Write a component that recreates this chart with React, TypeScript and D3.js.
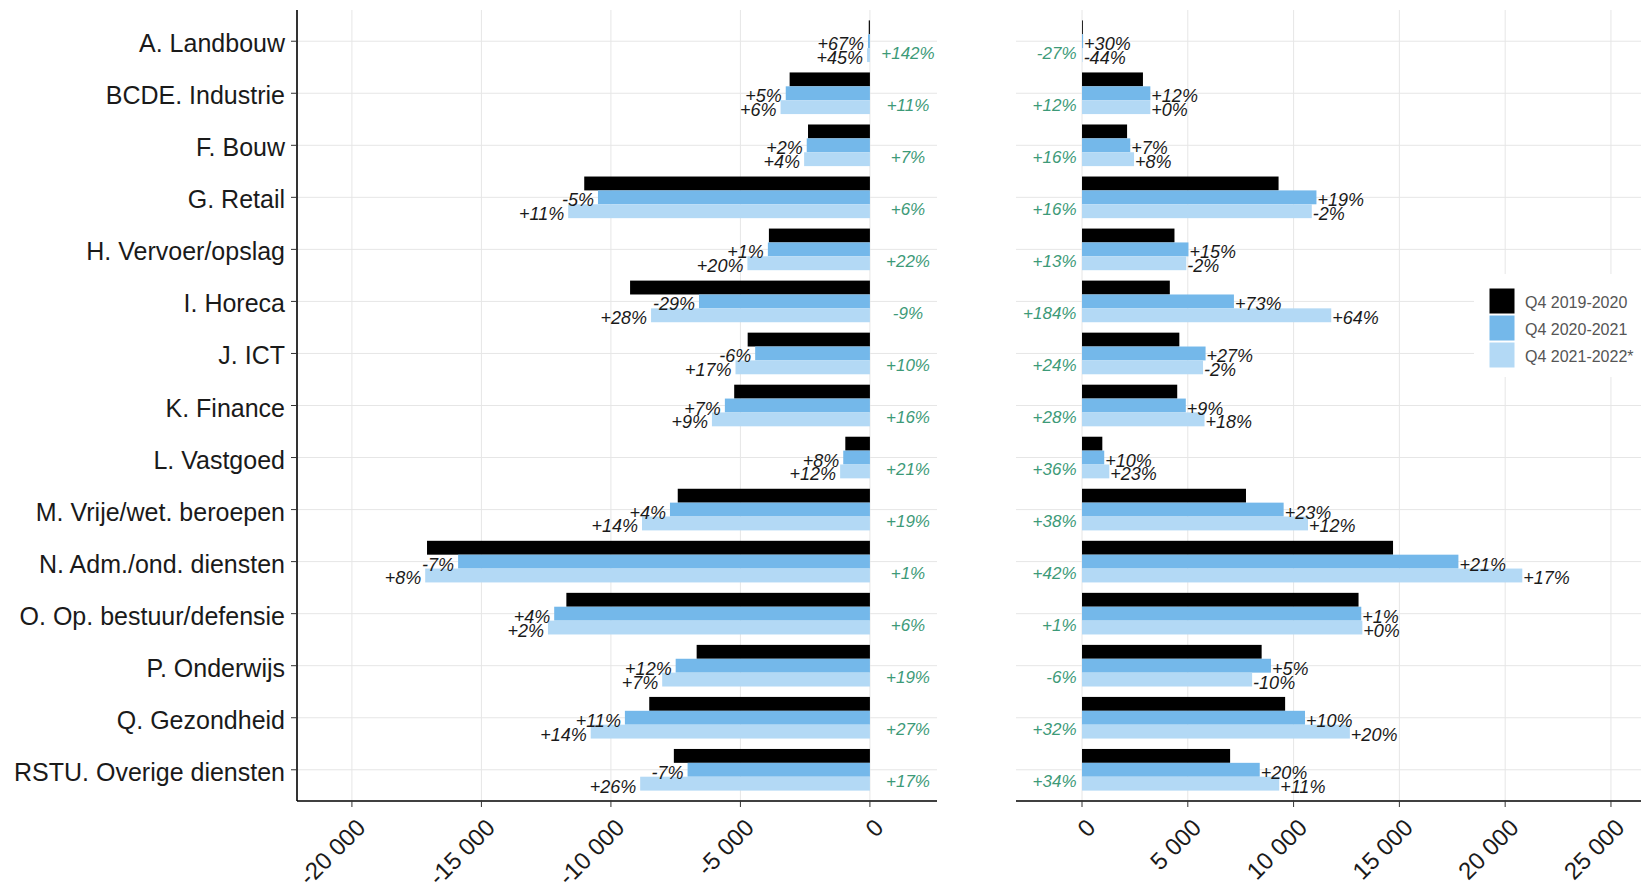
import * as d3 from 'd3'

// sectors (top to bottom)
const categories = [
  'A. Landbouw',
  'BCDE. Industrie',
  'F. Bouw',
  'G. Retail',
  'H. Vervoer/opslag',
  'I. Horeca',
  'J. ICT',
  'K. Finance',
  'L. Vastgoed',
  'M. Vrije/wet. beroepen',
  'N. Adm./ond. diensten',
  'O. Op. bestuur/defensie',
  'P. Onderwijs',
  'Q. Gezondheid',
  'RSTU. Overige diensten',
]

const seriesNames = ['Q4 2019-2020', 'Q4 2020-2021', 'Q4 2021-2022*']
const seriesColors = ['#000000', '#74b8ea', '#b3d9f5']

// left panel (negative values)
const left2019 = [-45, -3100, -2390, -11030, -3900, -9260, -4720, -5240, -950, -7420, -17100, -11720, -6690, -8520, -7570]
const left2020 = [-75, -3250, -2440, -10500, -3940, -6600, -4430, -5600, -1030, -7720, -15900, -12190, -7500, -9460, -7040]
const left2021 = [-110, -3450, -2540, -11650, -4730, -8450, -5190, -6100, -1150, -8800, -17170, -12430, -8020, -10780, -8870]
const leftPct2020 = ['+67%', '+5%', '+2%', '-5%', '+1%', '-29%', '-6%', '+7%', '+8%', '+4%', '-7%', '+4%', '+12%', '+11%', '-7%']
const leftPct2021 = ['+45%', '+6%', '+4%', '+11%', '+20%', '+28%', '+17%', '+9%', '+12%', '+14%', '+8%', '+2%', '+7%', '+14%', '+26%']
const leftTotal = ['+142%', '+11%', '+7%', '+6%', '+22%', '-9%', '+10%', '+16%', '+21%', '+19%', '+1%', '+6%', '+19%', '+27%', '+17%']
const leftTicks = [-20000, -15000, -10000, -5000, 0]

// right panel (positive values)
const right2019 = [40, 2880, 2130, 9290, 4370, 4150, 4600, 4500, 960, 7750, 14700, 13070, 8490, 9600, 7000]
const right2020 = [52, 3230, 2280, 11080, 5030, 7180, 5840, 4905, 1050, 9530, 17790, 13200, 8930, 10540, 8400]
const right2021 = [29, 3230, 2460, 10860, 4930, 11780, 5720, 5790, 1290, 10680, 20810, 13250, 8040, 12660, 9320]
const rightPct2020 = ['+30%', '+12%', '+7%', '+19%', '+15%', '+73%', '+27%', '+9%', '+10%', '+23%', '+21%', '+1%', '+5%', '+10%', '+20%']
const rightPct2021 = ['-44%', '+0%', '+8%', '-2%', '-2%', '+64%', '-2%', '+18%', '+23%', '+12%', '+17%', '+0%', '-10%', '+20%', '+11%']
const rightTotal = ['-27%', '+12%', '+16%', '+16%', '+13%', '+184%', '+24%', '+28%', '+36%', '+38%', '+42%', '+1%', '-6%', '+32%', '+34%']
const rightTicks = [0, 5000, 10000, 15000, 20000, 25000]

const W = 1641
const H = 889
const font = '"Liberation Sans", Arial, sans-serif'
const green = '#3d9a78'
const grid = '#e6e6e6'

const top = 10
const bottom = 801

const fmt = d3
  .formatLocale({ decimal: '.', thousands: ' ', grouping: [3], currency: ['', ''], minus: '-' })
  .format(',')

const y = d3.scalePoint<string>().domain(categories).range([top, bottom]).padding(0.6)
const sub = d3
  .scaleBand<string>()
  .domain(seriesNames)
  .range([-y.step() * 0.4, y.step() * 0.4])

const xL = d3.scaleLinear().domain([-22120, 2590]).range([297, 937])
const xR = d3.scaleLinear().domain([-3120, 26420]).range([1016, 1641])

type PanelProps = {
  x: d3.ScaleLinear<number, number>
  values: number[][]
  pct2020: string[]
  pct2021: string[]
  side: 'left' | 'right'
}

const Bars = ({ x, values, pct2020, pct2021, side }: PanelProps) => {
  const bh = sub.bandwidth()
  return (
    <g>
      {categories.map((c, i) => {
        const cy = y(c)!
        return (
          <g key={c}>
            {seriesNames.map((s, k) => {
              const v = values[k][i]
              const x0 = Math.min(x(0), x(v))
              const w = Math.abs(x(v) - x(0))
              return (
                <rect
                  key={s}
                  x={x0}
                  y={cy + sub(s)!}
                  width={w}
                  height={bh}
                  fill={seriesColors[k]}
                />
              )
            })}
            {[pct2020, pct2021].map((labels, j) => {
              const k = j + 1
              const v = values[k][i]
              const ly = cy + sub(seriesNames[k])! + bh / 2 + 3
              return (
                <text
                  key={j}
                  x={side === 'left' ? x(v) - 4 : x(v) + 1}
                  y={ly}
                  textAnchor={side === 'left' ? 'end' : 'start'}
                  dominantBaseline="central"
                  fontSize={18}
                  fontStyle="italic"
                  fill="#1a1a1a"
                >
                  {labels[i]}
                </text>
              )
            })}
          </g>
        )
      })}
    </g>
  )
}

export default function App() {
  const leftVals = [left2019, left2020, left2021]
  const rightVals = [right2019, right2020, right2021]

  return (
    <svg
      width={W}
      height={H}
      style={{ position: 'absolute', left: 0, top: 0, fontFamily: font, background: '#fff' }}
    >
      {/* left panel grid */}
      <g>
        {categories.map((c) => (
          <line key={c} x1={xL.range()[0]} x2={xL.range()[1]} y1={y(c)} y2={y(c)} stroke={grid} />
        ))}
        {leftTicks.map((t) => (
          <line key={t} x1={xL(t)} x2={xL(t)} y1={top} y2={bottom} stroke={grid} />
        ))}
      </g>
      {/* right panel grid */}
      <g>
        {categories.map((c) => (
          <line key={c} x1={xR.range()[0]} x2={xR.range()[1]} y1={y(c)} y2={y(c)} stroke={grid} />
        ))}
        {rightTicks.map((t) => (
          <line key={t} x1={xR(t)} x2={xR(t)} y1={top} y2={bottom} stroke={grid} />
        ))}
      </g>

      <Bars x={xL} values={leftVals} pct2020={leftPct2020} pct2021={leftPct2021} side="left" />
      <Bars x={xR} values={rightVals} pct2020={rightPct2020} pct2021={rightPct2021} side="right" />

      {/* total change labels */}
      {categories.map((c, i) => (
        <g key={c} fontSize={17} fontStyle="italic" fill={green}>
          <text x={xL(1470)} y={y(c)! + 12} textAnchor="middle" dominantBaseline="central">
            {leftTotal[i]}
          </text>
          <text x={xR(-260)} y={y(c)! + 12} textAnchor="end" dominantBaseline="central">
            {rightTotal[i]}
          </text>
        </g>
      ))}

      {/* left axes */}
      <line x1={xL.range()[0]} x2={xL.range()[0]} y1={top} y2={bottom} stroke="#000" strokeWidth={1.6} />
      <line x1={xL.range()[0]} x2={xL.range()[1]} y1={bottom} y2={bottom} stroke="#000" strokeWidth={1.6} />
      {categories.map((c) => (
        <g key={c}>
          <line x1={xL.range()[0] - 6} x2={xL.range()[0]} y1={y(c)} y2={y(c)} stroke="#333" />
          <text
            x={xL.range()[0] - 12}
            y={y(c)! + 2}
            textAnchor="end"
            dominantBaseline="central"
            fontSize={25}
            fill="#1a1a1a"
          >
            {c}
          </text>
        </g>
      ))}
      {leftTicks.map((t) => (
        <g key={t}>
          <line x1={xL(t)} x2={xL(t)} y1={bottom} y2={bottom + 6} stroke="#333" />
          <text
            transform={`translate(${xL(t) + 15},${bottom + 28}) rotate(-45)`}
            textAnchor="end"
            fontSize={24}
            fill="#1a1a1a"
          >
            {fmt(t)}
          </text>
        </g>
      ))}

      {/* right axes */}
      <line x1={xR.range()[0]} x2={xR.range()[1]} y1={bottom} y2={bottom} stroke="#000" strokeWidth={1.6} />
      {rightTicks.map((t) => (
        <g key={t}>
          <line x1={xR(t)} x2={xR(t)} y1={bottom} y2={bottom + 6} stroke="#333" />
          <text
            transform={`translate(${xR(t) + 15},${bottom + 28}) rotate(-45)`}
            textAnchor="end"
            fontSize={24}
            fill="#1a1a1a"
          >
            {fmt(t)}
          </text>
        </g>
      ))}

      {/* legend */}
      <g>
        <rect x={1474} y={274} width={W - 1474} height={103} fill="#fff" />
        {seriesNames.map((s, k) => (
          <g key={s} transform={`translate(1489,${288 + k * 27})`}>
            <rect width={26} height={26} fill={seriesColors[k]} stroke="#fff" strokeWidth={1} />
            <text x={36} y={14} dominantBaseline="central" fontSize={16} fill="#555">
              {s}
            </text>
          </g>
        ))}
      </g>
    </svg>
  )
}
